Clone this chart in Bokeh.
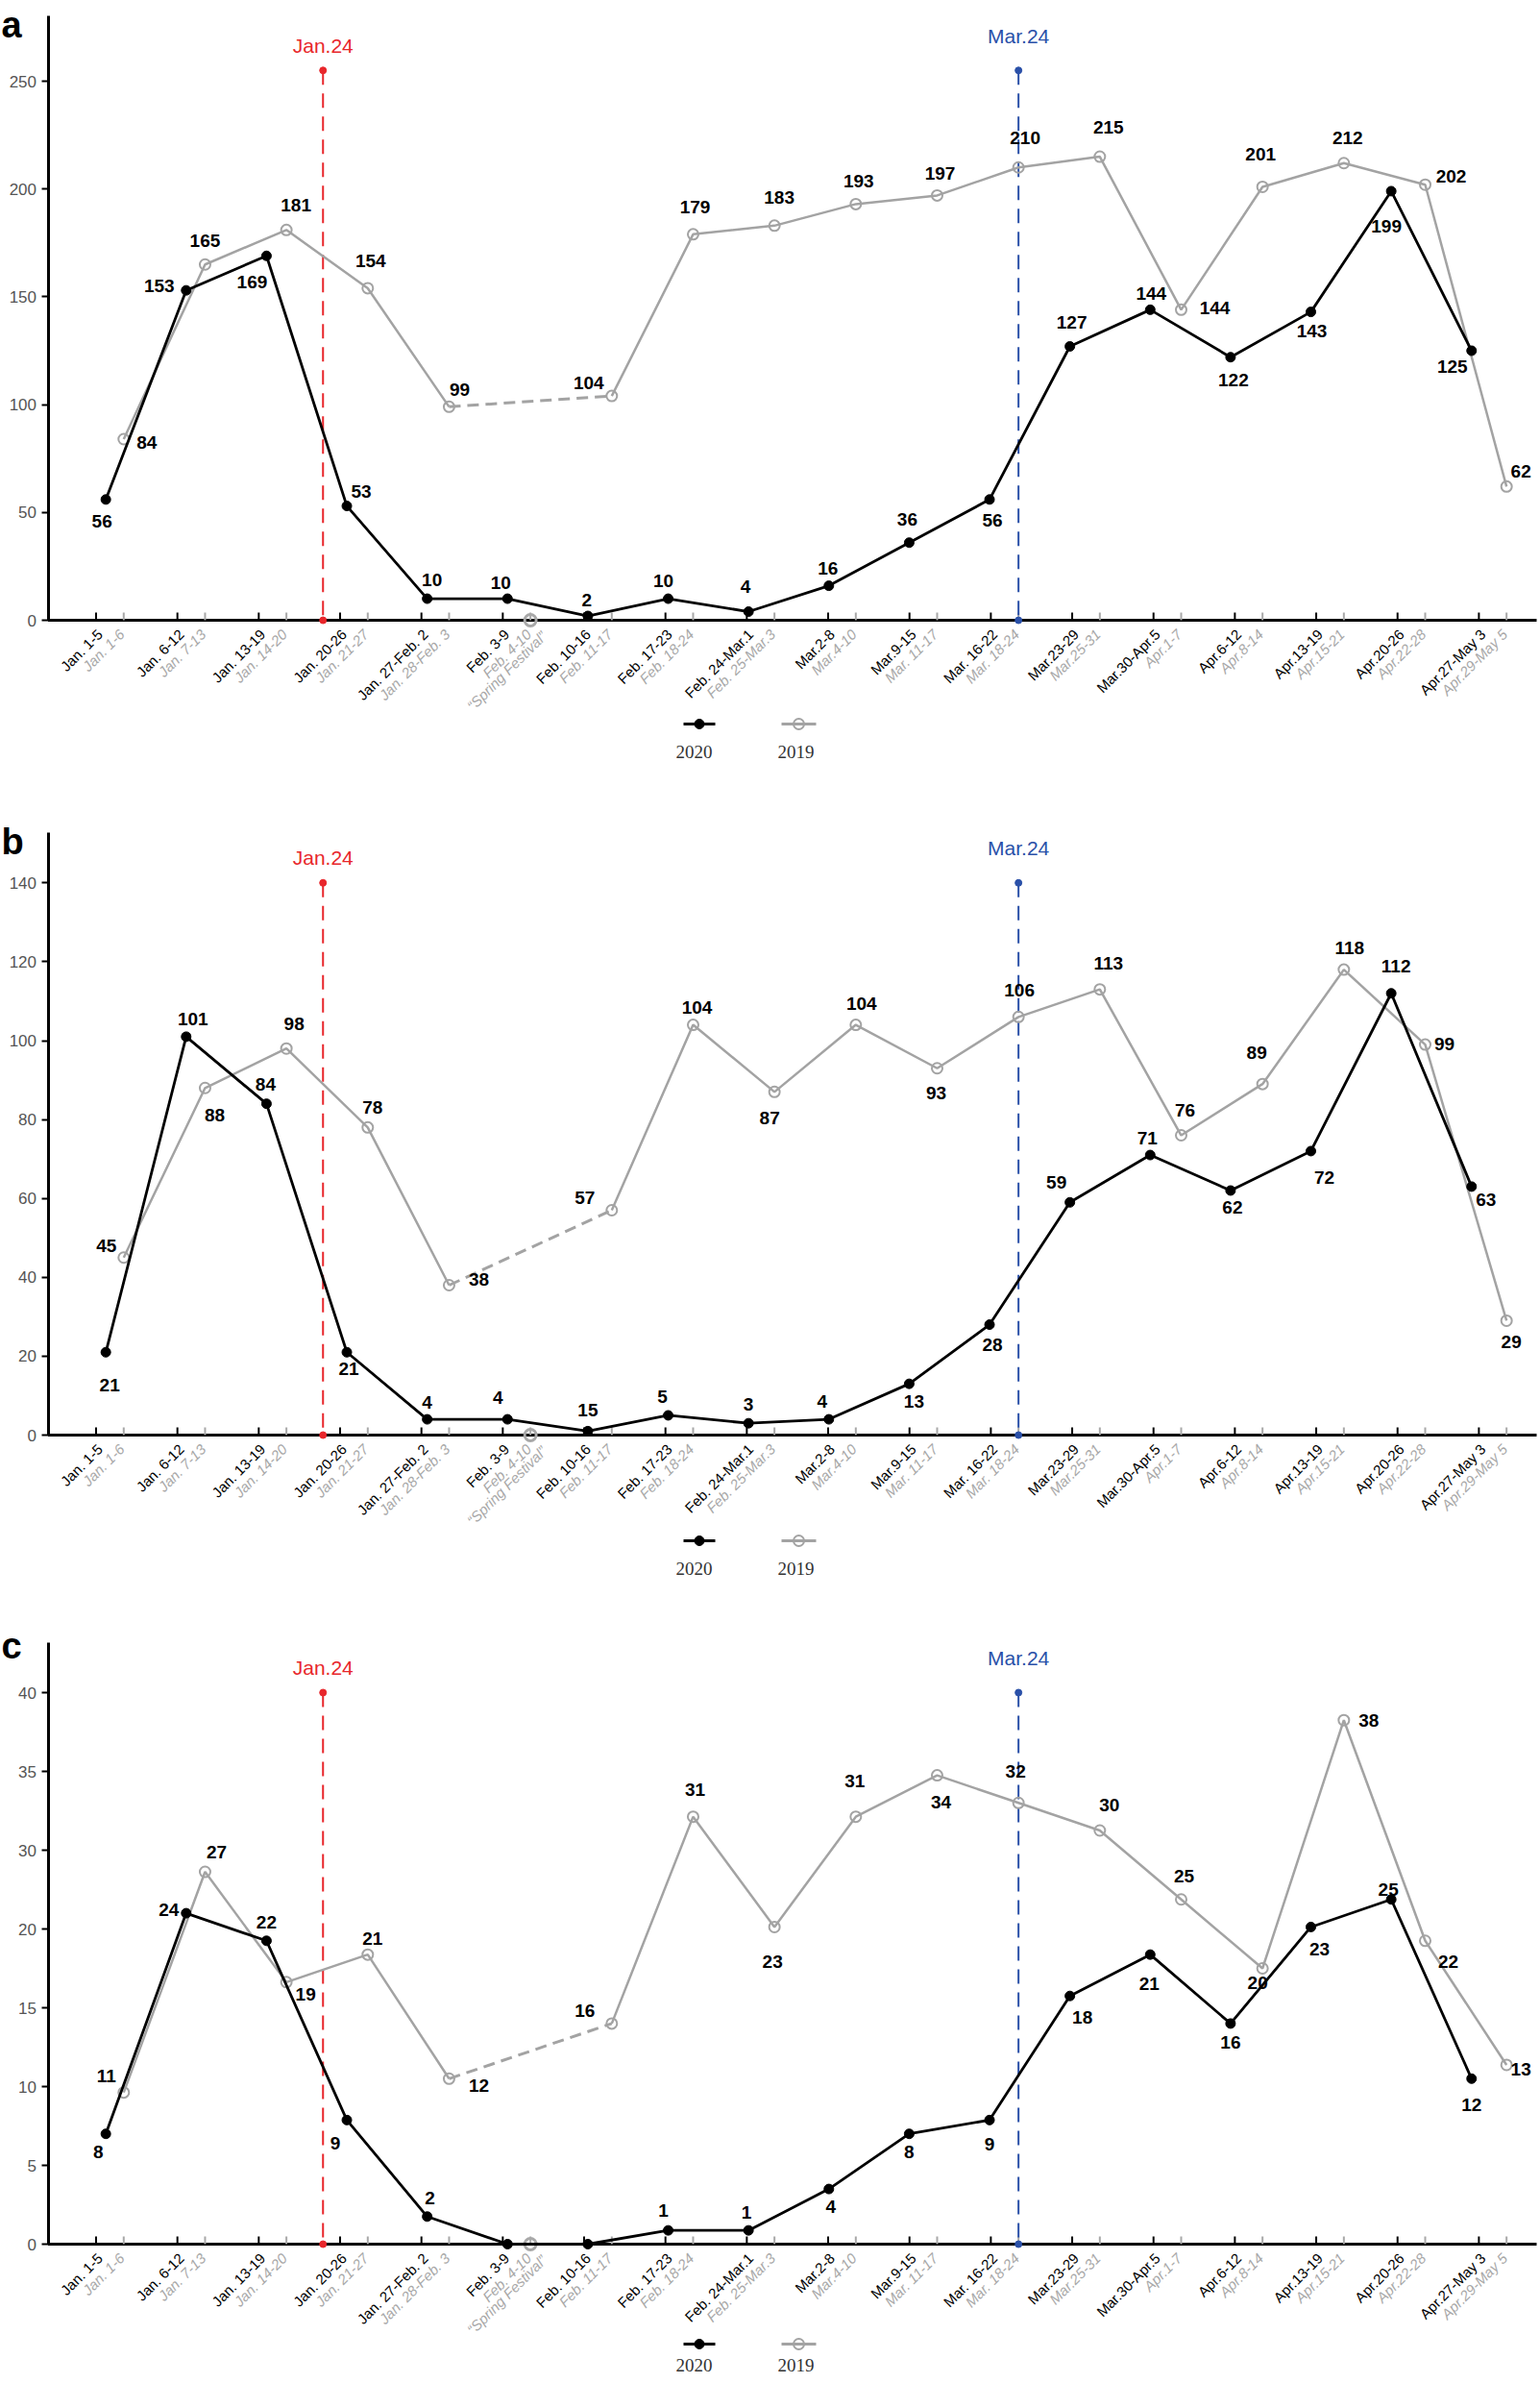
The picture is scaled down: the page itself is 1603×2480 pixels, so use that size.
import numpy as np
from bokeh.plotting import figure
from bokeh.models import Range1d, LinearAxis, FixedTicker, ColumnDataSource
from bokeh.layouts import column
from bokeh.embed import file_html
from bokeh.resources import INLINE
from bokeh.core.properties import value

# ---------------- data ----------------
weeks_2020 = ["Jan. 1-5", "Jan. 6-12", "Jan. 13-19", "Jan. 20-26", "Jan. 27-Feb. 2",
              "Feb. 3-9", "Feb. 10-16", "Feb. 17-23", "Feb. 24-Mar.1", "Mar.2-8",
              "Mar.9-15", "Mar. 16-22", "Mar.23-29", "Mar.30-Apr.5", "Apr.6-12",
              "Apr.13-19", "Apr.20-26", "Apr.27-May 3"]
weeks_2019 = ["Jan. 1-6", "Jan. 7-13", "Jan. 14-20", "Jan. 21-27", "Jan. 28-Feb. 3",
              "Feb. 4-10", "Feb. 11-17", "Feb. 18-24", "Feb. 25-Mar.3", "Mar.4-10",
              "Mar. 11-17", "Mar. 18-24", "Mar.25-31", "Apr.1-7", "Apr.8-14",
              "Apr.15-21", "Apr.22-28", "Apr.29-May 5"]
holiday_note = "\u201cSpring Festival\u201d"
series_names = ["2020", "2019"]

a_2020 = [56, 153, 169, 53, 10, 10, 2, 10, 4, 16, 36, 56, 127, 144, 122, 143, 199, 125]
a_2019 = [84, 165, 181, 154, 99, None, 104, 179, 183, 193, 197, 210, 215, 144, 201, 212, 202, 62]
a_2020_text = [str(v) for v in a_2020]

b_2020 = [21, 101, 84, 21, 4, 4, 1, 5, 3, 4, 13, 28, 59, 71, 62, 72, 112, 63]
b_2020_text = ["21", "101", "84", "21", "4", "4", "15", "5", "3", "4", "13", "28",
               "59", "71", "62", "72", "112", "63"]
b_2019 = [45, 88, 98, 78, 38, None, 57, 104, 87, 104, 93, 106, 113, 76, 89, 118, 99, 29]

c_2020 = [8, 24, 22, 9, 2, 0, 0, 1, 1, 4, 8, 9, 18, 21, 16, 23, 25, 12]
c_2020_text = ["8", "24", "22", "9", "2", "", "", "1", "1", "4", "8", "9",
               "18", "21", "16", "23", "25", "12"]
c_2019 = [11, 27, 19, 21, 12, None, 16, 31, 23, 31, 34, 32, 30, 25, 20, 38, 22, 13]

holiday_2019 = 0  # Spring Festival week drawn on the axis

a_ytick_labels = ["0", "50", "100", "150", "200", "250"]
b_ytick_labels = ["0", "20", "40", "60", "80", "100", "120", "140"]
c_ytick_labels = ["0", "5", "10", "15", "20", "30", "35", "40"]

# ---------------- label placement (screen px, dy positive = down) ----------------
a20_off = [(-4, 23), (-28, -5), (-15, 27), (15, -15), (5, -20), (-7, -17), (-1, -17), (-5, -19),
           (-3, -26), (-1, -18), (-2, -24), (3, 22), (2, -25), (1, -17), (3, 24), (1, 20),
           (-5, 37), (-20, 16)]
a19_off = [(24, 3), (0, -25), (10, -26), (3, -28), (11, -18), None, (-24, -14), (2, -28),
           (5, -29), (3, -24), (3, -23), (7, -31), (9, -31), (35, -2), (-2, -34), (4, -26),
           (27, -9), (15, -16)]
b20_off = [(4, 34), (7, -18), (-1, -20), (2, 17), (0, -18), (-10, -23), (0, -22), (-6, -19),
           (0, -20), (-7, -19), (5, 18), (3, 21), (-14, -21), (-3, -18), (2, 18), (14, 28),
           (5, -28), (15, 14)]
b19_off = [(-18, -12), (10, 28), (8, -26), (5, -21), (31, -6), None, (-28, -13), (4, -18),
           (-5, 27), (6, -22), (-1, 26), (1, -28), (9, -27), (4, -26), (-6, -33), (6, -23),
           (20, -1), (5, 22)]
c20_off = [(-8, 19), (-18, -4), (0, -19), (-12, 24), (3, -19), (0, 0), (0, 0), (-5, -21),
           (-2, -19), (2, 18), (0, 19), (0, 25), (13, 22), (-1, 30), (0, 20), (9, 23),
           (-3, -10), (0, 27)]
c19_off = [(-18, -17), (12, -21), (20, 13), (5, -17), (31, 7), None, (-28, -13), (2, -28),
           (-2, 36), (-1, -37), (4, 28), (-3, -33), (10, -27), (3, -24), (-5, 15), (26, 0),
           (24, 22), (15, 5)]

# ---------------- layout constants (page px; Bokeh page has no body margin) ----------------
FIG_W = 1602
X0, SP = 99.5, 84.67          # page x of first week tick, px per week
AX_PAGE = 49.5                # page x of the y axis
XEND_PAGE = 1599              # right end of the x axis line
OFF19 = 0.34
N = len(weeks_2020)
X20 = [i + 0.12 - i * 0.21 / (N - 1) for i in range(N)]
X19 = [i + OFF19 for i in range(N)]
XMIN = (0 - X0) / SP
XMAX = (FIG_W - X0) / SP
YAX_X = (AX_PAGE - X0) / SP
XAX_END = (XEND_PAGE - X0) / SP
GREY = "#a3a3a3"
LGREY = "#a8a8a8"
RED = "#e8262b"
BLUE = "#2a50a8"
FONT = value("Liberation Sans")

events = [("Jan.24", weeks_2020.index("Jan. 20-26") - 0.21, RED, -26),
          ("Mar.24", weeks_2019.index("Mar. 18-24") + OFF19, BLUE, -36)]


def panel(letter, v20, t20, o20, v19, o19, ytick_labels, geom, ev_top, letter_py, leg_py):
    fig_h, zero_px, k, axis_top = geom
    y_top = zero_px / k
    y_start = -(fig_h - zero_px) / k
    p = figure(width=FIG_W, height=fig_h, x_range=Range1d(XMIN, XMAX),
               y_range=Range1d(y_start, y_top), x_axis_type=None, y_axis_type=None,
               toolbar_location=None, output_backend="svg", min_border=0,
               outline_line_color=None, background_fill_color="white",
               border_fill_color="white")
    p.extra_x_ranges = {"px": Range1d(0, FIG_W)}
    p.extra_y_ranges = {"py": Range1d(-(fig_h - zero_px), zero_px)}

    # y axis (drawn inside the frame at a fixed x)
    top_label = float(ytick_labels[-1])
    ticks = list(np.linspace(0, top_label, len(ytick_labels)))
    yax = LinearAxis(ticker=FixedTicker(ticks=ticks), bounds=(0, axis_top),
                     fixed_location=YAX_X,
                     major_label_overrides={t: l for t, l in zip(ticks, ytick_labels)},
                     axis_line_width=3, axis_line_color="black",
                     major_tick_in=0, major_tick_out=7, major_tick_line_width=2,
                     minor_tick_line_color=None, major_label_standoff=5,
                     major_label_text_font="Liberation Sans",
                     major_label_text_font_size="17px", major_label_text_color="#555555")
    p.add_layout(yax, "left")

    # x axis line and ticks
    p.segment(x0=[YAX_X], y0=[0], x1=[XAX_END], y1=[0], line_color="black", line_width=3)
    xs_black = list(range(N))
    p.segment(x0=xs_black, y0=[0] * N, x1=xs_black, y1=[8] * N, y_range_name="py",
              line_color="black", line_width=2)
    p.segment(x0=X19, y0=[0] * N, x1=X19, y1=[8] * N, y_range_name="py",
              line_color=LGREY, line_width=2)

    # event lines
    for name, xe, col, tdy in events:
        p.segment(x0=[xe], y0=[ev_top], x1=[xe], y1=[0], line_color=col, line_width=2,
                  line_dash="15 9")
        p.scatter(x=[xe, xe], y=[0, ev_top], size=7, color=col)
        p.text(x=[xe], y=[ev_top], text=[name], y_offset=tdy, text_align="center",
               text_baseline="middle", text_font=FONT, text_font_size="21px", text_color=col)

    # 2019 series
    y19 = [np.nan if v is None else v for v in v19]
    p.line(X19, y19, line_color=GREY, line_width=2.5)
    for j, v in enumerate(v19):
        if v is None:
            p.line([X19[j - 1], X19[j + 1]], [v19[j - 1], v19[j + 1]], line_color=GREY,
                   line_width=3, line_dash="12 7")
            p.scatter([X19[j]], [holiday_2019], marker="circle", size=12, fill_color=None,
                      line_color=LGREY, line_width=3)
    idx19 = [j for j, v in enumerate(v19) if v is not None]
    p.scatter([X19[j] for j in idx19], [v19[j] for j in idx19], marker="circle", size=11,
              fill_color=None, line_color=GREY, line_width=2)

    # 2020 series
    p.line(X20, v20, line_color="black", line_width=2.8)
    p.scatter(X20, v20, marker="circle", size=10, color="black")

    # value labels
    lx, ly, lt, ldx, ldy = [], [], [], [], []
    for j in range(N):
        if t20[j]:
            lx.append(X20[j]); ly.append(v20[j]); lt.append(t20[j])
            ldx.append(o20[j][0]); ldy.append(o20[j][1])
    for j in idx19:
        lx.append(X19[j]); ly.append(v19[j]); lt.append(str(v19[j]))
        ldx.append(o19[j][0]); ldy.append(o19[j][1])
    src = ColumnDataSource(dict(x=lx, y=ly, t=lt, dx=ldx, dy=ldy))
    p.text(x="x", y="y", text="t", x_offset="dx", y_offset="dy", source=src,
           text_align="center", text_baseline="middle", text_font=FONT,
           text_font_style="bold", text_font_size="19px", text_color="black")

    # week labels
    p.text(x=xs_black, y=[0] * N, text=weeks_2020, angle=np.pi / 4, text_align="right",
           text_baseline="middle", x_offset=4, y_offset=12, text_font=FONT,
           text_font_size="15px", text_color="black")
    p.text(x=X19, y=[0] * N, text=weeks_2019, angle=np.pi / 4, text_align="right",
           text_baseline="middle", x_offset=-2, y_offset=12, text_font=FONT,
           text_font_style="italic", text_font_size="15px", text_color=LGREY)
    j_h = [j for j, v in enumerate(v19) if v is None][0]
    p.text(x=[X19[j_h]], y=[0], text=[holiday_note], angle=np.pi / 4, text_align="right",
           text_baseline="middle", x_offset=14, y_offset=14, text_font=FONT,
           text_font_style="italic", text_font_size="15px", text_color=LGREY)

    # legend (drawn manually: marker above the name)
    g_py, t_py = leg_py
    p.segment(x0=[711], y0=[g_py], x1=[744], y1=[g_py], x_range_name="px", y_range_name="py",
              line_color="black", line_width=3)
    p.scatter([727.5], [g_py], x_range_name="px", y_range_name="py", size=10, color="black")
    p.segment(x0=[813], y0=[g_py], x1=[849], y1=[g_py], x_range_name="px", y_range_name="py",
              line_color=GREY, line_width=3)
    p.scatter([831], [g_py], x_range_name="px", y_range_name="py", size=11, fill_color=None,
              line_color=GREY, line_width=2)
    p.text(x=[722, 828], y=[t_py, t_py], text=series_names, x_range_name="px",
           y_range_name="py", text_align="center", text_baseline="middle",
           text_font=value("Liberation Serif"), text_font_size="19px", text_color="#333333")

    # panel letter
    p.text(x=[1], y=[letter_py], text=[letter], x_range_name="px", y_range_name="py",
           text_font=FONT, text_font_style="bold", text_font_size="38px",
           text_align="left", text_baseline="alphabetic", text_color="black")
    return p


# geometry: (figure height, px from figure top to y=0, px per unit, axis top value)
pa = panel("a", a_2020, a_2020_text, a20_off, a_2019, a19_off, a_ytick_labels,
           (846, 645, 2.244, 280.3), 255, 620, (-108, -137))
pb = panel("b", b_2020, b_2020_text, b20_off, b_2019, b19_off, b_ytick_labels,
           (842, 647, 4.105, 152.7), 140, 618, (-110, -139))
pc = panel("c", c_2020, c_2020_text, c20_off, c_2019, c19_off, c_ytick_labels,
           (791, 647, 14.35, 43.6), 40, 623, (-104, -126))

layout = column(pa, pb, pc, spacing=0)
open("out.html", "w").write(file_html(layout, INLINE))
